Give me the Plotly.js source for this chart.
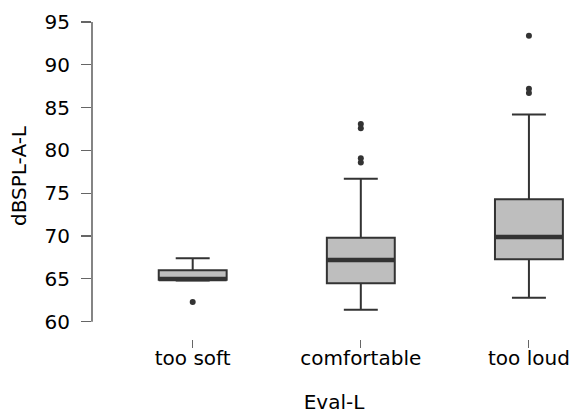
<!DOCTYPE html>
<html>
<head>
<meta charset="utf-8">
<script src="https://cdn.plot.ly/plotly-3.0.1.min.js"></script>
<style>html,body{margin:0;padding:0;background:#fff;}#chart{width:576px;height:414px;}</style>
</head>
<body>
<div id="chart"></div>
<script>
const categories = ["too soft", "comfortable", "too loud"];
const q1 = [64.9, 64.5, 67.3];
const medians = [65.0, 67.2, 69.9];
const q3 = [66.0, 69.8, 74.3];
const lowerWhisker = [64.8, 61.4, 62.8];
const upperWhisker = [67.4, 76.7, 84.2];
const outliersSoft = [62.3];
const outliersComfortable = [83.1, 82.6, 79.1, 78.6];
const outliersLoud = [93.4, 87.2, 86.7];
const yTicks = [60, 65, 70, 75, 80, 85, 90, 95];

const idx = categories.map((c, i) => i);
const boxW = 0.404;
const font = "DejaVu Sans, sans-serif";
const fs = 20;

const traces = [{
  type: "box",
  x: idx,
  q1: q1, median: medians, q3: q3,
  lowerfence: lowerWhisker, upperfence: upperWhisker,
  width: boxW,
  whiskerwidth: 0.5,
  fillcolor: "#bebebe",
  line: {color: "#333333", width: 2},
  boxpoints: false,
  hoverinfo: "skip",
  showlegend: false
}];

// thicker median lines
const mx = [], my = [];
idx.forEach((i) => {
  mx.push(i - boxW / 2, i + boxW / 2, null);
  my.push(medians[i], medians[i], null);
});
traces.push({type: "scatter", mode: "lines", x: mx, y: my,
  line: {color: "#333333", width: 4.5}, showlegend: false, hoverinfo: "skip"});

const ox = [], oy = [];
[outliersSoft, outliersComfortable, outliersLoud].forEach((arr, i) => {
  arr.forEach(v => { ox.push(i); oy.push(v); });
});
traces.push({type: "scatter", mode: "markers", x: ox, y: oy,
  marker: {color: "#333333", size: 6}, showlegend: false, hoverinfo: "skip"});

const layout = {
  width: 576, height: 414,
  margin: {l: 92, r: 0, t: 13, b: 75},
  paper_bgcolor: "#ffffff", plot_bgcolor: "#ffffff",
  font: {family: font, size: fs, color: "#000000"},
  xaxis: {
    range: [-0.599, 2.28],
    tickmode: "array", tickvals: idx, ticktext: categories,
    ticks: "outside", ticklen: 8, tickwidth: 1, tickcolor: "#666666",
    ticklabelstandoff: -7,
    showline: false, showgrid: false, zeroline: false,
    tickfont: {family: font, size: fs, color: "#000000"},
    title: {text: "Eval-L", font: {family: font, size: fs, color: "#000000"}, standoff: 28}
  },
  yaxis: {
    range: [57.98, 96.05],
    tickmode: "array", tickvals: yTicks,
    ticks: "outside", ticklen: 10, tickwidth: 1.2, tickcolor: "#666666",
    ticklabelstandoff: 7,
    showline: false, showgrid: false, zeroline: false,
    tickfont: {family: font, size: fs, color: "#000000"},
    title: {text: "dBSPL-A-L", font: {family: font, size: fs, color: "#000000"}, standoff: 12}
  },
  shapes: [{type: "line", xref: "paper", yref: "y", x0: 0, x1: 0,
    y0: yTicks[0], y1: yTicks[yTicks.length - 1],
    line: {color: "#333333", width: 1.2}}]
};

Plotly.newPlot("chart", traces, layout, {staticPlot: true, displayModeBar: false});
</script>
</body>
</html>
